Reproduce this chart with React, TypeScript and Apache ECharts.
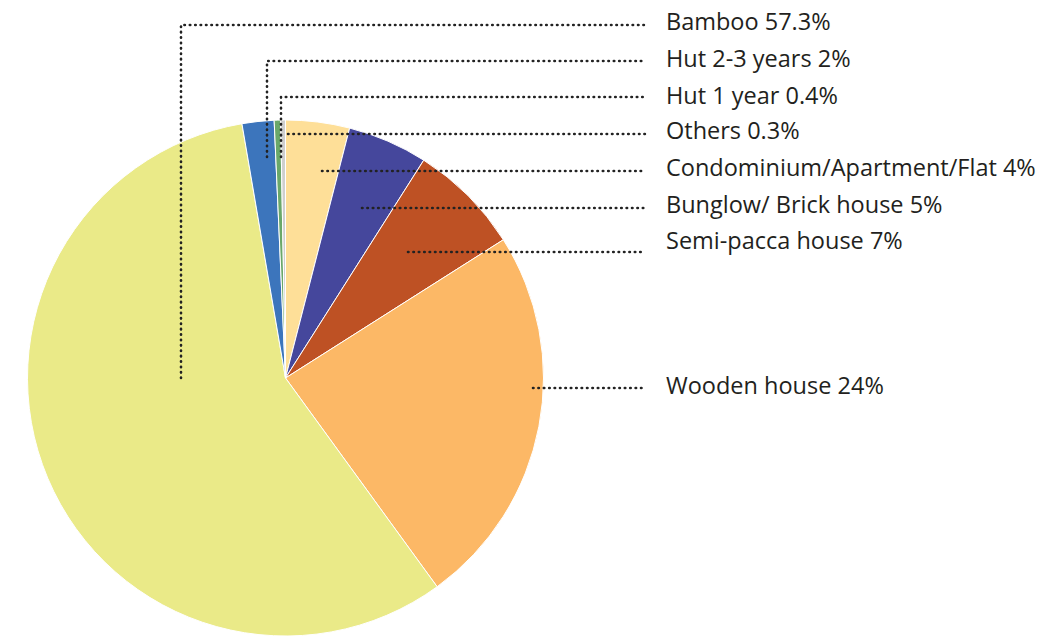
import React, { useEffect, useRef } from "react";
import * as echarts from "echarts";

const categories = [
  "Condominium/Apartment/Flat",
  "Bunglow/ Brick house",
  "Semi-pacca house",
  "Wooden house",
  "Bamboo",
  "Hut 2-3 years",
  "Hut 1 year",
  "Others",
];
const values = [4, 5, 7, 24, 57.3, 2, 0.4, 0.3];
const labelTexts = [
  "Condominium/Apartment/Flat 4%",
  "Bunglow/ Brick house 5%",
  "Semi-pacca house 7%",
  "Wooden house 24%",
  "Bamboo 57.3%",
  "Hut 2-3 years 2%",
  "Hut 1 year 0.4%",
  "Others 0.3%",
];
const colors = [
  "#FEDF98",
  "#45479C",
  "#BE5124",
  "#FCB866",
  "#EAEA88",
  "#3C75BC",
  "#6AA86A",
  "#CFCFCF",
];

// layout of the labels and leader lines (pixel layout, not data)
const LABEL_X = 666;
const LINE_END = 645;
const leaderLayouts: { textY: number; points: number[][] }[] = [
  { textY: 167, points: [[322, 171], [LINE_END, 171]] },
  { textY: 204, points: [[362, 208], [LINE_END, 208]] },
  { textY: 240, points: [[408, 252], [LINE_END, 252]] },
  { textY: 385, points: [[533, 388], [LINE_END, 388]] },
  { textY: 21, points: [[181, 378], [181, 25], [LINE_END, 25]] },
  { textY: 58, points: [[267, 157], [267, 61], [LINE_END, 61]] },
  { textY: 95, points: [[281, 157], [281, 97], [LINE_END, 97]] },
  { textY: 130, points: [[288, 134], [LINE_END, 134]] },
];

const dotStyle = {
  stroke: "#222222",
  lineWidth: 2.6,
  lineDash: [0.5, 4.9],
  lineCap: "round",
  fill: null,
};

export default function App() {
  const ref = useRef<HTMLDivElement>(null);
  useEffect(() => {
    if (!ref.current) return;
    const chart = echarts.init(ref.current, undefined, { renderer: "svg" });
    chart.setOption({
      animation: false,
      backgroundColor: "#ffffff",
      graphic: leaderLayouts.map((l) => ({
        type: "polyline",
        z: 100,
        silent: true,
        shape: { points: l.points },
        style: dotStyle,
      })),
      series: [
        {
          type: "pie",
          center: [285.5, 378],
          radius: 258,
          startAngle: 90,
          clockwise: true,
          data: categories.map((name, i) => ({
            name,
            value: values[i],
            itemStyle: { color: colors[i] },
            label: { formatter: labelTexts[i] },
          })),
          itemStyle: { borderColor: "#ffffff", borderWidth: 1 },
          label: {
            show: true,
            position: "outer",
            fontFamily: "Open Sans",
            fontSize: 23.5,
            color: "#231f20",
            overflow: "none",
            width: 500,
          },
          labelLine: { show: false },
          labelLayout: (params: any) => {
            const l = leaderLayouts[params.dataIndex];
            return {
              x: LABEL_X,
              y: l.textY,
              align: "left",
              verticalAlign: "middle",
              hideOverlap: false,
            };
          },
          emphasis: { disabled: true },
        },
      ],
    });
    return () => chart.dispose();
  }, []);
  return (
    <div
      ref={ref}
      style={{ position: "fixed", left: 0, top: 0, width: 1037, height: 637 }}
    />
  );
}
